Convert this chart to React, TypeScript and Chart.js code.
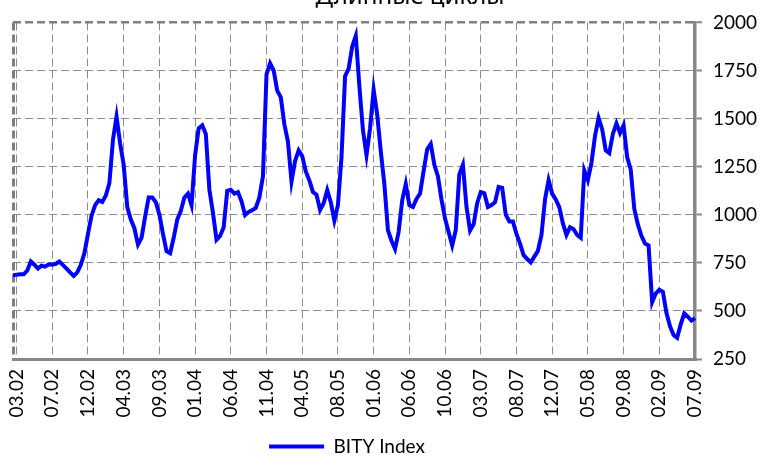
import React, { useEffect, useRef } from "react";
import { Chart, registerables } from "chart.js";

Chart.register(...registerables);

const TITLE = "Длинные циклы";
const SERIES_LABEL = "BITY Index";

const TICK_LABELS = [
  "03.02", "07.02", "12.02", "04.03", "09.03", "01.04", "06.04", "11.04", "04.05", "08.05",
  "01.06", "06.06", "10.06", "03.07", "08.07", "12.07", "05.08", "09.08", "02.09", "07.09",
];
const TICK_FIRST = 1;
const TICK_EVERY = 10;

const Y_MIN = 250;
const Y_MAX = 2000;
const Y_STEP = 250;

const BITY = [
  686, 688, 690, 690, 710, 757, 740, 720, 735, 730,
  742, 740, 745, 757, 738, 720, 700, 682, 700, 740,
  800, 900, 995, 1050, 1075, 1067, 1100, 1165, 1390, 1510,
  1370, 1260, 1040, 975, 930, 845, 880, 990, 1090, 1090,
  1065, 1000, 900, 810, 800, 880, 975, 1020, 1090, 1110,
  1050, 1310, 1450, 1465, 1420, 1130, 1010, 870, 890, 935,
  1125, 1130, 1110, 1118, 1070, 998, 1015, 1024, 1035, 1090,
  1200, 1730, 1787, 1750, 1645, 1610, 1470, 1380, 1173, 1280,
  1335, 1305, 1225, 1178, 1118, 1104, 1025, 1060, 1128, 1065,
  970, 1050, 1300, 1720, 1760, 1875, 1930, 1670, 1440, 1310,
  1450, 1650, 1520, 1330, 1160, 920, 865, 822, 910, 1075,
  1160, 1050, 1040, 1082, 1110, 1228, 1340, 1368, 1260, 1200,
  1080, 980, 910, 840, 920, 1210, 1260, 1041, 918, 950,
  1060, 1118, 1112, 1040, 1050, 1065, 1145, 1140, 1000, 965,
  965, 900, 850, 790, 770, 752, 782, 812, 895, 1080,
  1180, 1110, 1080, 1040, 955, 895, 935, 925, 895, 880,
  1230, 1180, 1270, 1410, 1503, 1445, 1335, 1320, 1420, 1475,
  1425, 1465, 1300, 1235, 1030, 950, 890, 850, 840, 545,
  590, 610, 600, 490, 420, 375, 360, 430, 487, 470,
  450, 463,
];

const CATEGORIES = BITY.map((_, i) => {
  const k = i - TICK_FIRST;
  return k >= 0 && k % TICK_EVERY === 0 ? TICK_LABELS[k / TICK_EVERY] ?? "" : "";
});

const GRID = "#8c8c8c";
const AXIS = "#888888";
const LINE = "#0000ff";
const FONT = "Lato, 'Noto Sans', sans-serif";

const titlePlugin = {
  id: "cutTitle",
  afterDraw(chart: any) {
    const ctx = chart.ctx;
    ctx.save();
    ctx.font = "24px 'Noto Sans', sans-serif";
    ctx.fillStyle = "#000";
    ctx.textAlign = "center";
    ctx.textBaseline = "alphabetic";
    ctx.fillText(TITLE, 410, 4);
    ctx.restore();
  },
};

const legendShiftPlugin = {
  id: "legendShift",
  afterLayout(chart: any) {
    const lg = chart.legend;
    if (lg) {
      lg.left -= 7;
      lg.right -= 7;
    }
  },
};

export default function App() {
  const ref = useRef<HTMLCanvasElement | null>(null);

  useEffect(() => {
    if (!ref.current) return;
    Chart.defaults.font.family = FONT;
    Chart.defaults.font.size = 19;
    Chart.defaults.color = "#000";

    const chart = new Chart(ref.current, {
      type: "line",
      data: {
        labels: CATEGORIES,
        datasets: [
          {
            label: SERIES_LABEL,
            data: BITY,
            borderColor: LINE,
            backgroundColor: LINE,
            borderWidth: 4,
            pointRadius: 0,
            pointHoverRadius: 0,
            tension: 0,
            fill: false,
          },
        ],
      },
      options: {
        responsive: false,
        animation: false,
        events: [],
        layout: { padding: { top: 14, left: 13, right: 0, bottom: 0 } },
        plugins: {
          title: { display: false },
          tooltip: { enabled: false },
          legend: {
            display: true,
            position: "bottom",
            fullSize: false,
            labels: {
              usePointStyle: true,
              pointStyle: "line",
              pointStyleWidth: 55,
              padding: 10,
              color: "#000",
              font: { size: 19, family: FONT },
            },
          },
        },
        scales: {
          x: {
            type: "category",
            offset: false,
            afterFit: (s: any) => {
              s.height = 68;
            },
            grid: {
              display: true,
              drawOnChartArea: true,
              drawTicks: false,
              color: (c: any) =>
                c.index === 0 ? "#808080" : CATEGORIES[c.index] ? GRID : "rgba(0,0,0,0)",
              lineWidth: (c: any) => (c.index === 0 ? 3 : 1),
            },
            border: { display: true, color: AXIS, width: 3, dash: [8, 4] },
            ticks: {
              autoSkip: false,
              maxRotation: 90,
              minRotation: 90,
              padding: 10,
              color: "#000",
              font: { size: 19, family: FONT },
              callback: (_v: any, i: number) => CATEGORIES[i],
            },
          },
          y: {
            position: "right",
            min: Y_MIN,
            max: Y_MAX,
            afterFit: (s: any) => {
              s.width = 72;
            },
            grid: {
              display: true,
              drawTicks: true,
              tickLength: 7,
              tickColor: AXIS,
              tickWidth: 2,
              color: (c: any) => (c.tick && c.tick.value === Y_MAX ? "#808080" : GRID),
              lineWidth: (c: any) => (c.tick && c.tick.value === Y_MAX ? 2.5 : 1),
            },
            border: { display: true, color: AXIS, width: 3.5, dash: [8, 4] },
            ticks: {
              stepSize: Y_STEP,
              padding: 11,
              color: "#000",
              font: { size: 19, family: FONT },
              callback: (v: any) => String(v),
            },
          },
        },
      },
      plugins: [titlePlugin, legendShiftPlugin],
    } as any);

    return () => chart.destroy();
  }, []);

  return (
    <div
      style={{
        position: "absolute",
        left: 0,
        top: 0,
        width: 767,
        height: 459,
        overflow: "hidden",
      }}
    >
      <canvas ref={ref} width={767} height={466} style={{ display: "block" }} />
    </div>
  );
}
